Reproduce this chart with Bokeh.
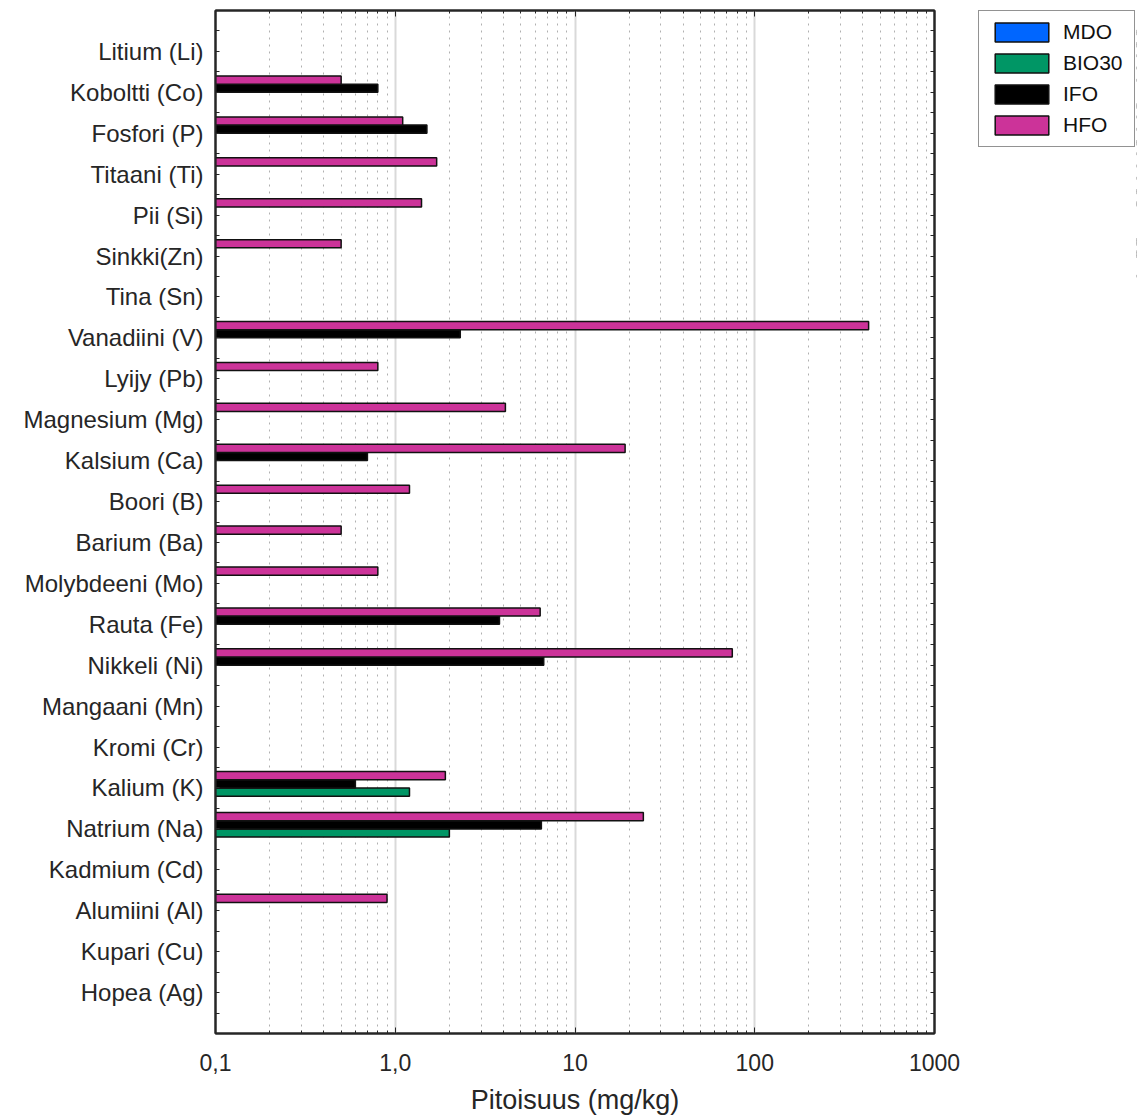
import math
from bokeh.plotting import figure
from bokeh.layouts import row
from bokeh.models import (Range1d, FixedTicker, LogAxis, LinearAxis, Legend, LegendItem,
                          CustomJSTickFormatter, ColumnDataSource)
from bokeh.embed import file_html
from bokeh.resources import INLINE

nan = float("nan")

categories = ["Litium (Li)", "Koboltti (Co)", "Fosfori (P)", "Titaani (Ti)", "Pii (Si)",
              "Sinkki(Zn)", "Tina (Sn)", "Vanadiini (V)", "Lyijy (Pb)", "Magnesium (Mg)",
              "Kalsium (Ca)", "Boori (B)", "Barium (Ba)", "Molybdeeni (Mo)", "Rauta (Fe)",
              "Nikkeli (Ni)", "Mangaani (Mn)", "Kromi (Cr)", "Kalium (K)", "Natrium (Na)",
              "Kadmium (Cd)", "Alumiini (Al)", "Kupari (Cu)", "Hopea (Ag)"]

mdo = [nan] * 24
bio30 = [nan, nan, nan, nan, nan, nan, nan, nan, nan, nan, nan, nan,
         nan, nan, nan, nan, nan, nan, 1.2, 2.0, nan, nan, nan, nan]
ifo = [nan, 0.8, 1.5, nan, nan, nan, nan, 2.3, nan, nan, 0.7, nan,
       nan, nan, 3.8, 6.7, nan, nan, 0.6, 6.5, nan, nan, nan, nan]
hfo = [nan, 0.5, 1.1, 1.7, 1.4, 0.5, nan, 430, 0.8, 4.1, 19, 1.2,
       0.5, 0.8, 6.4, 75, nan, nan, 1.9, 24, nan, 0.9, nan, nan]

series_names = ["MDO", "BIO30", "IFO", "HFO"]
series_values = [mdo, bio30, ifo, hfo]
series_colors = ["#0066ff", "#009665", "#000000", "#cc3399"]
series_offsets = [-0.3, -0.1, 0.1, 0.3]

x_major = [0.1, 1, 10, 100, 1000]
x_minor = [d * k for d in [0.1, 1, 10, 100] for k in range(2, 10)]

FONT = "Liberation Sans"
TXT = "#262626"

n = len(categories)
ypos = [n - i for i in range(n)]

p = figure(frame_width=719, frame_height=1023, x_axis_type="log",
           x_range=Range1d(0.1, 1000), y_range=Range1d(0, n + 1),
           output_backend="svg", toolbar_location=None,
           min_border_left=215, min_border_top=10, min_border_right=44, min_border_bottom=0)

sources = []
for name, vals, col, off in zip(series_names, series_values, series_colors, series_offsets):
    src = ColumnDataSource(dict(y=[y + off for y in ypos], right=vals, left=[0.1] * n))
    sources.append(src)
    p.hbar(y="y", right="right", left="left", height=0.2, source=src,
           fill_color=col, line_color="#111111", line_width=1.5)

xticker = FixedTicker(ticks=x_major, minor_ticks=x_minor)
yticker = FixedTicker(ticks=ypos, minor_ticks=[k + 0.5 for k in range(0, n + 1)])

xa = p.xaxis[0]
xa.ticker = xticker
xa.formatter = CustomJSTickFormatter(code="""
if (tick < 0.5) return '0,1';
if (tick < 5) return '1,0';
return String(Math.round(tick));
""")
xa.axis_label = "Pitoisuus (mg/kg)"
xa.axis_label_text_font = FONT
xa.axis_label_text_font_size = "27px"
xa.axis_label_text_font_style = "normal"
xa.axis_label_text_color = TXT
xa.axis_label_standoff = 11
xa.major_label_text_font = FONT
xa.major_label_text_font_size = "23px"
xa.major_label_text_color = TXT
xa.major_label_standoff = 20
xa.major_tick_in = 6
xa.major_tick_out = 0
xa.minor_tick_in = 3
xa.minor_tick_out = 0
xa.axis_line_width = 2
xa.axis_line_color = TXT
xa.major_tick_line_color = TXT
xa.minor_tick_line_color = TXT

ya = p.yaxis[0]
ya.ticker = yticker
ya.major_label_overrides = {y: c for y, c in zip(ypos, categories)}
ya.major_label_text_font = FONT
ya.major_label_text_font_size = "24px"
ya.major_label_text_color = TXT
ya.major_label_standoff = 12
ya.major_tick_in = 4
ya.major_tick_out = 0
ya.minor_tick_in = 4
ya.minor_tick_out = 0
ya.axis_line_width = 2
ya.axis_line_color = TXT
ya.major_tick_line_color = TXT
ya.minor_tick_line_color = TXT

top = LogAxis(ticker=xticker, major_label_text_font_size="2px", major_label_text_color=None,
              major_label_standoff=0,
              major_tick_in=6, major_tick_out=0, minor_tick_in=3, minor_tick_out=0,
              axis_line_width=2, axis_line_color=TXT, major_tick_line_color=TXT,
              minor_tick_line_color=TXT)
p.add_layout(top, "above")
right = LinearAxis(ticker=yticker, major_label_text_font_size="2px", major_label_text_color=None,
                   major_label_standoff=0,
                   major_tick_in=4, major_tick_out=0, minor_tick_in=4, minor_tick_out=0,
                   axis_line_width=2, axis_line_color=TXT, major_tick_line_color=TXT,
                   minor_tick_line_color=TXT)
p.add_layout(right, "right")

p.xgrid.ticker = xticker
p.xgrid.grid_line_color = "#d9d9d9"
p.xgrid.grid_line_width = 2
p.xgrid.minor_grid_line_color = "#b0b0b0"
p.xgrid.minor_grid_line_dash = "2 5"
p.xgrid.minor_grid_line_width = 1
p.ygrid.visible = False

p.outline_line_color = TXT
p.outline_line_width = 2
p.background_fill_color = "white"
p.border_fill_color = "white"

# legend panel to the right of the chart (its renderers share the series data,
# but its view range keeps the bars out of sight so only the legend shows)
lg = figure(width=159, height=400, x_range=Range1d(-2, -1), y_range=Range1d(0, n + 1),
            x_axis_location=None, y_axis_location=None, toolbar_location=None,
            output_backend="svg", min_border_left=0, min_border_right=0,
            min_border_top=10, min_border_bottom=0)
lg.grid.visible = False
lg.outline_line_color = None
lg_items = []
for name, col, src in zip(series_names, series_colors, sources):
    r = lg.hbar(y="y", right="right", left="left", height=0.2, source=src,
                fill_color=col, line_color="#111111", line_width=1.5)
    lg_items.append(LegendItem(label=name, renderers=[r]))

legend = Legend(items=lg_items, location="top_left", glyph_width=67, glyph_height=24,
                label_text_font=FONT, label_text_font_size="21px", label_text_color="#111111",
                spacing=7, padding=9, label_standoff=8, label_width=62, margin=0,
                border_line_color=TXT, border_line_width=1.5, background_fill_alpha=1.0)
lg.add_layout(legend)

layout = row(p, lg)
open("out.html", "w").write(file_html(layout, INLINE))
